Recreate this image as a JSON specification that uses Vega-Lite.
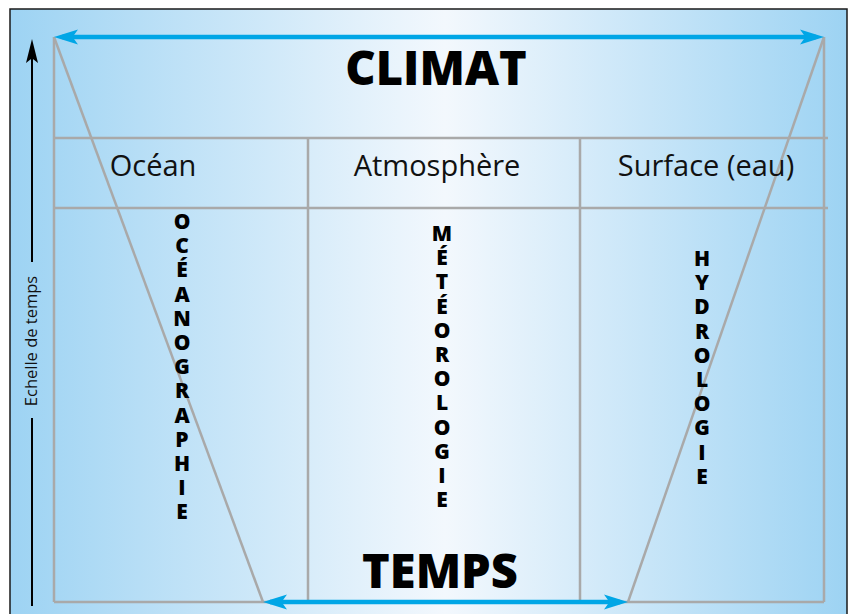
{
  "$schema": "https://vega.github.io/schema/vega-lite/v6.json",
  "width": 851,
  "height": 614,
  "autosize": {"type": "none"},
  "padding": 0,
  "background": "white",
  "config": {"view": {"stroke": null}},
  "datasets": {
    "frame": [{"x": 10, "x2": 847, "y": 9, "y2": 616}],
    "grey": [
      {"x": 54, "y": 37, "x2": 54, "y2": 602},
      {"x": 824, "y": 37, "x2": 824, "y2": 602},
      {"x": 54, "y": 602, "x2": 824, "y2": 602},
      {"x": 54, "y": 138, "x2": 828, "y2": 138},
      {"x": 54, "y": 208, "x2": 828, "y2": 208},
      {"x": 308, "y": 138, "x2": 308, "y2": 602},
      {"x": 580, "y": 138, "x2": 580, "y2": 602},
      {"x": 54, "y": 37, "x2": 263, "y2": 602},
      {"x": 824, "y": 37, "x2": 628, "y2": 602}
    ],
    "blue": [
      {"x": 62, "y": 37, "x2": 816, "y2": 37},
      {"x": 270, "y": 602, "x2": 620, "y2": 602}
    ],
    "blueheads": [
      {"x": 54, "y": 37, "dir": "left"},
      {"x": 824, "y": 37, "dir": "right"},
      {"x": 263, "y": 602, "dir": "left"},
      {"x": 628, "y": 602, "dir": "right"}
    ],
    "axisline": [
      {"x": 32, "y": 50, "x2": 32, "y2": 262},
      {"x": 32, "y": 418, "x2": 32, "y2": 606}
    ],
    "axishead": [{"x": 32, "y": 39}],
    "titles": [
      {"x": 436, "y": 85, "label": "CLIMAT"},
      {"x": 440, "y": 588, "label": "TEMPS"}
    ],
    "headers": [
      {"x": 153, "y": 176, "label": "Océan"},
      {"x": 437, "y": 176, "label": "Atmosphère"},
      {"x": 706, "y": 176, "label": "Surface (eau)"}
    ],
    "vertical": [
      {"x": 182, "y": 223, "label": "O\nC\nÉ\nA\nN\nO\nG\nR\nA\nP\nH\nI\nE"},
      {"x": 442, "y": 235, "label": "M\nÉ\nT\nÉ\nO\nR\nO\nL\nO\nG\nI\nE"},
      {"x": 702, "y": 260, "label": "H\nY\nD\nR\nO\nL\nO\nG\nI\nE"}
    ],
    "axislabel": [{"x": 32, "y": 341, "label": "Echelle de temps"}]
  },
  "layer": [
    {
      "data": {"name": "frame"},
      "mark": {
        "type": "rect",
        "stroke": "#1a1a1a",
        "strokeWidth": 1.5,
        "fill": {
          "gradient": "linear",
          "x1": 0, "x2": 1, "y1": 0, "y2": 0,
          "stops": [
            {"offset": 0, "color": "#9dd3f3"},
            {"offset": 0.52, "color": "#f3f8fd"},
            {"offset": 1, "color": "#9dd3f3"}
          ]
        }
      },
      "encoding": {
        "x": {"field": "x", "type": "quantitative", "scale": {"domain": [0, 851]}, "axis": null},
        "x2": {"field": "x2"},
        "y": {"field": "y", "type": "quantitative", "scale": {"domain": [0, 614], "reverse": true}, "axis": null},
        "y2": {"field": "y2"}
      }
    },
    {
      "data": {"name": "grey"},
      "mark": {"type": "rule", "color": "#a9a9a9", "strokeWidth": 2.5},
      "encoding": {
        "x": {"field": "x", "type": "quantitative", "scale": {"domain": [0, 851]}, "axis": null},
        "x2": {"field": "x2"},
        "y": {"field": "y", "type": "quantitative", "scale": {"domain": [0, 614], "reverse": true}, "axis": null},
        "y2": {"field": "y2"}
      }
    },
    {
      "data": {"name": "blue"},
      "mark": {"type": "rule", "color": "#00a6e6", "strokeWidth": 4.5},
      "encoding": {
        "x": {"field": "x", "type": "quantitative", "scale": {"domain": [0, 851]}, "axis": null},
        "x2": {"field": "x2"},
        "y": {"field": "y", "type": "quantitative", "scale": {"domain": [0, 614], "reverse": true}, "axis": null},
        "y2": {"field": "y2"}
      }
    },
    {
      "data": {"name": "blueheads"},
      "mark": {"type": "point", "filled": true, "opacity": 1, "color": "#00a6e6", "size": 576, "strokeWidth": 0},
      "encoding": {
        "x": {"field": "x", "type": "quantitative", "scale": {"domain": [0, 851]}, "axis": null},
        "y": {"field": "y", "type": "quantitative", "scale": {"domain": [0, 614], "reverse": true}, "axis": null},
        "shape": {
          "field": "dir", "type": "nominal", "legend": null,
          "scale": {"domain": ["left", "right"], "range": ["M0,0 L2,-0.62 L1.55,0 L2,0.62 Z", "M0,0 L-2,-0.62 L-1.55,0 L-2,0.62 Z"]}
        }
      }
    },
    {
      "data": {"name": "axisline"},
      "mark": {"type": "rule", "color": "#000000", "strokeWidth": 2},
      "encoding": {
        "x": {"field": "x", "type": "quantitative", "scale": {"domain": [0, 851]}, "axis": null},
        "x2": {"field": "x2"},
        "y": {"field": "y", "type": "quantitative", "scale": {"domain": [0, 614], "reverse": true}, "axis": null},
        "y2": {"field": "y2"}
      }
    },
    {
      "data": {"name": "axishead"},
      "mark": {"type": "point", "filled": true, "opacity": 1, "color": "#000000", "size": 576, "strokeWidth": 0, "shape": "M0,0 L-0.5,2 L0,1.6 L0.5,2 Z"},
      "encoding": {
        "x": {"field": "x", "type": "quantitative", "scale": {"domain": [0, 851]}, "axis": null},
        "y": {"field": "y", "type": "quantitative", "scale": {"domain": [0, 614], "reverse": true}, "axis": null}
      }
    },
    {
      "data": {"name": "titles"},
      "mark": {"type": "text", "font": "Open Sans", "fontWeight": 800, "fontSize": 47, "color": "#000000", "align": "center", "baseline": "alphabetic"},
      "encoding": {
        "x": {"field": "x", "type": "quantitative", "scale": {"domain": [0, 851]}, "axis": null},
        "y": {"field": "y", "type": "quantitative", "scale": {"domain": [0, 614], "reverse": true}, "axis": null},
        "text": {"field": "label"}
      }
    },
    {
      "data": {"name": "headers"},
      "mark": {"type": "text", "font": "Open Sans", "fontSize": 29, "color": "#111111", "align": "center", "baseline": "alphabetic"},
      "encoding": {
        "x": {"field": "x", "type": "quantitative", "scale": {"domain": [0, 851]}, "axis": null},
        "y": {"field": "y", "type": "quantitative", "scale": {"domain": [0, 614], "reverse": true}, "axis": null},
        "text": {"field": "label"}
      }
    },
    {
      "data": {"name": "vertical"},
      "mark": {"type": "text", "font": "Open Sans", "fontWeight": 800, "fontSize": 21, "color": "#000000", "align": "center", "baseline": "middle", "lineBreak": "\n", "lineHeight": 24.2},
      "encoding": {
        "x": {"field": "x", "type": "quantitative", "scale": {"domain": [0, 851]}, "axis": null},
        "y": {"field": "y", "type": "quantitative", "scale": {"domain": [0, 614], "reverse": true}, "axis": null},
        "text": {"field": "label"}
      }
    },
    {
      "data": {"name": "axislabel"},
      "mark": {"type": "text", "font": "Open Sans", "fontSize": 16.5, "color": "#111111", "align": "center", "baseline": "middle", "angle": 270},
      "encoding": {
        "x": {"field": "x", "type": "quantitative", "scale": {"domain": [0, 851]}, "axis": null},
        "y": {"field": "y", "type": "quantitative", "scale": {"domain": [0, 614], "reverse": true}, "axis": null},
        "text": {"field": "label"}
      }
    }
  ]
}
